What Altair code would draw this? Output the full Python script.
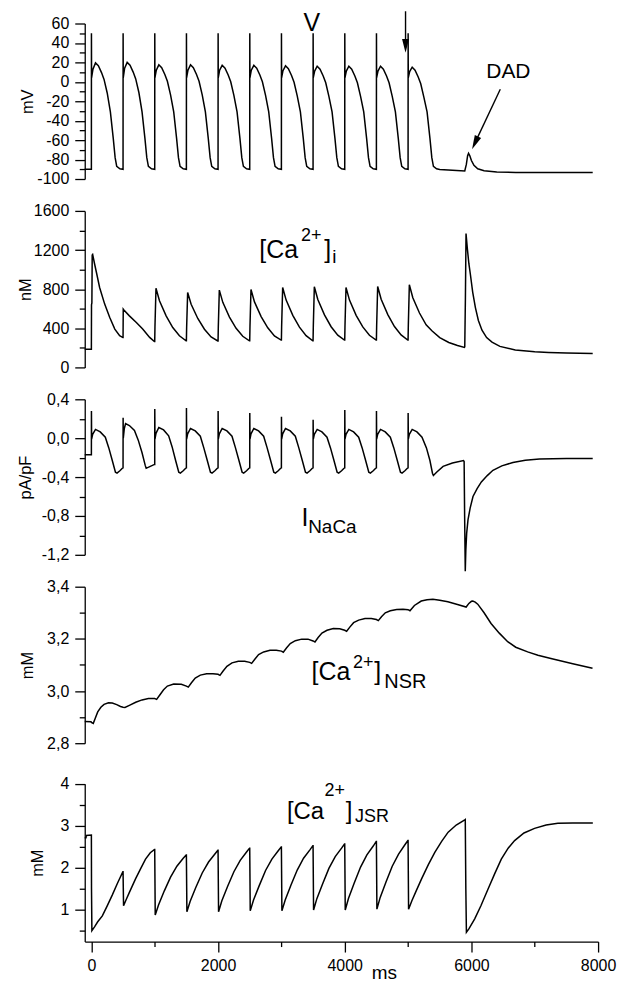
import altair as alt
import pandas as pd

FONT = "Liberation Sans"
X_DOMAIN = [-105, 8000]

# ---------------- traces: (time ms, value) ----------------
V_PTS = [
    (-105, -90), (0, -90), (1, 50), (3, 4), (25, 13), (65, 19.5), (110, 16.5), (160, 9.5), (200, 2.5), (250, -11.5), (300, -31), (345, -58), (375, -78), (400, -87), (450, -89.5),
    (500, -90), (501, 50), (503, 4), (525, 14), (565, 20), (610, 17), (660, 10), (700, 3), (750, -11), (800, -31), (845, -58), (875, -78), (900, -87), (950, -89.5),
    (1000, -90), (1001, 50), (1003, 4), (1025, 12), (1065, 17.5), (1110, 14.5), (1160, 7.5), (1200, 0.5), (1250, -13.5), (1300, -31), (1345, -58), (1375, -78), (1400, -87), (1450, -89.5),
    (1500, -90), (1501, 50), (1503, 4), (1525, 12), (1565, 17.5), (1610, 14.5), (1660, 7.5), (1700, 0.5), (1750, -13.5), (1800, -31), (1845, -58), (1875, -78), (1900, -87), (1950, -89.5),
    (2000, -90), (2001, 50), (2003, 4), (2025, 12), (2065, 17), (2110, 14), (2160, 7), (2200, 0), (2250, -14), (2300, -31), (2345, -58), (2375, -78), (2400, -87), (2450, -89.5),
    (2500, -90), (2501, 50), (2503, 4), (2525, 12), (2565, 17), (2610, 14), (2660, 7), (2700, 0), (2750, -14), (2800, -31), (2845, -58), (2875, -78), (2900, -87), (2950, -89.5),
    (3000, -90), (3001, 50), (3003, 4), (3025, 11.5), (3065, 16.5), (3110, 13.5), (3160, 6.5), (3200, -0.5), (3250, -14.5), (3300, -31), (3345, -58), (3375, -78), (3400, -87), (3450, -89.5),
    (3500, -90), (3501, 50), (3503, 4), (3525, 11), (3565, 16), (3610, 13), (3660, 6), (3700, -1), (3750, -15), (3800, -31), (3845, -58), (3875, -78), (3900, -87), (3950, -89.5),
    (4000, -90), (4001, 50), (4003, 4), (4025, 11), (4065, 16), (4110, 13), (4160, 6), (4200, -1), (4250, -15), (4300, -31), (4345, -58), (4375, -78), (4400, -87), (4450, -89.5),
    (4500, -90), (4501, 50), (4503, 4), (4525, 11), (4565, 16), (4610, 13), (4660, 6), (4700, -1), (4750, -15), (4800, -31), (4845, -58), (4875, -78), (4900, -87), (4950, -89.5),
    (5000, -90), (5001, 50), (5003, 4), (5025, 10.5), (5065, 15), (5110, 12), (5160, 5), (5200, -2), (5250, -16), (5300, -31), (5345, -58), (5375, -78), (5400, -87), (5450, -89.5),
    (5500, -90.3), (5700, -91), (5895, -91.8), (5920, -85), (5940, -76), (5955, -73.5), (5975, -76), (6000, -81), (6040, -86), (6100, -89.5),
    (6200, -91.5), (6400, -92.8), (6700, -93.2), (7200, -93.3), (7915, -93.3),
]

CAI_PTS = [
    (-105, 185), (0, 185), (2, 640), (8, 660), (13, 1150), (20, 1155), (50, 1060), (80, 970), (130, 817), (210, 647), (290, 510), (370, 392), (446, 324), (498, 305),
    (500, 305), (503, 596), (510, 590), (600, 527), (710, 459), (810, 392), (920, 307), (995, 265),
    (1000, 265), (1004, 420), (1020, 810), (1075, 681), (1180, 527), (1285, 408), (1390, 323), (1495, 272),
    (1500, 272), (1504, 410), (1520, 765), (1575, 645), (1680, 500), (1785, 390), (1890, 312), (1995, 270),
    (2000, 270), (2004, 415), (2020, 790), (2075, 665), (2180, 515), (2285, 400), (2390, 318), (2495, 272),
    (2500, 272), (2504, 420), (2520, 796), (2575, 670), (2680, 520), (2785, 405), (2890, 322), (2995, 280),
    (3000, 280), (3004, 425), (3020, 817), (3075, 688), (3180, 532), (3285, 412), (3390, 325), (3495, 272),
    (3500, 272), (3504, 425), (3520, 824), (3575, 694), (3680, 537), (3785, 416), (3890, 330), (3995, 280),
    (4000, 280), (4004, 425), (4020, 817), (4075, 688), (4180, 532), (4285, 414), (4390, 328), (4495, 280),
    (4500, 280), (4504, 425), (4520, 827), (4575, 697), (4680, 540), (4785, 418), (4890, 332), (4995, 280),
    (5000, 280), (5004, 430), (5020, 845), (5075, 712), (5180, 556), (5285, 435), (5380, 372), (5500, 305), (5643, 255), (5780, 224), (5890, 205),
    (5895, 210), (5905, 700), (5915, 1368), (5935, 1220), (5960, 1060), (5984, 950), (6020, 770), (6063, 612), (6110, 480), (6167, 380),
    (6240, 305), (6325, 258), (6450, 215), (6693, 178), (7000, 160), (7217, 153), (7500, 147), (7915, 143),
]

NCX_PTS = [
    (-105, -0.17), (0, -0.17), (1, 0.28), (4, -0.01), (20, 0.04), (65, 0.09), (140, 0.065), (220, 0.01), (275, -0.1), (330, -0.23), (380, -0.35), (405, -0.36), (450, -0.335), (497, -0.305),
    (500, -0.305), (501, 0.21), (504, 0.0), (520, 0.1), (540, 0.15), (600, 0.13), (680, 0.08), (740, -0.02), (800, -0.15), (850, -0.28), (865, -0.31), (930, -0.29), (997, -0.27),
    (1000, -0.27), (1001, 0.30), (1004, -0.01), (1020, 0.05), (1065, 0.11), (1140, 0.085), (1220, 0.025), (1275, -0.09), (1330, -0.23), (1380, -0.35), (1405, -0.36), (1450, -0.335), (1497, -0.305),
    (1500, -0.305), (1501, 0.31), (1504, -0.01), (1520, 0.045), (1565, 0.10), (1640, 0.075), (1720, 0.02), (1775, -0.1), (1830, -0.23), (1880, -0.35), (1905, -0.36), (1950, -0.335), (1997, -0.305),
    (2000, -0.305), (2001, 0.28), (2004, -0.01), (2020, 0.045), (2065, 0.10), (2140, 0.075), (2220, 0.02), (2275, -0.1), (2330, -0.23), (2380, -0.35), (2405, -0.36), (2450, -0.335), (2497, -0.305),
    (2500, -0.305), (2501, 0.26), (2504, -0.01), (2520, 0.045), (2565, 0.10), (2640, 0.075), (2720, 0.02), (2775, -0.1), (2830, -0.23), (2880, -0.35), (2905, -0.36), (2950, -0.335), (2997, -0.305),
    (3000, -0.305), (3001, 0.22), (3004, -0.01), (3020, 0.045), (3065, 0.10), (3140, 0.075), (3220, 0.02), (3275, -0.1), (3330, -0.23), (3380, -0.35), (3405, -0.36), (3450, -0.335), (3497, -0.305),
    (3500, -0.305), (3501, 0.19), (3504, -0.01), (3520, 0.04), (3565, 0.09), (3640, 0.065), (3720, 0.01), (3775, -0.1), (3830, -0.23), (3880, -0.35), (3905, -0.36), (3950, -0.335), (3997, -0.305),
    (4000, -0.305), (4001, 0.29), (4004, -0.01), (4020, 0.04), (4065, 0.09), (4140, 0.065), (4220, 0.01), (4275, -0.1), (4330, -0.23), (4380, -0.35), (4405, -0.36), (4450, -0.335), (4497, -0.305),
    (4500, -0.305), (4501, 0.28), (4504, -0.01), (4520, 0.04), (4565, 0.09), (4640, 0.065), (4720, 0.01), (4775, -0.1), (4830, -0.23), (4880, -0.35), (4905, -0.36), (4950, -0.335), (4997, -0.305),
    (5000, -0.305), (5001, 0.26), (5004, -0.01), (5020, 0.04), (5065, 0.09), (5140, 0.065), (5220, 0.01), (5290, -0.1), (5345, -0.23), (5385, -0.36), (5400, -0.384), (5450, -0.35),
    (5553, -0.29), (5700, -0.255), (5875, -0.23), (5885, -0.24), (5893, -0.8), (5903, -1.37), (5912, -1.15), (5925, -0.98), (5946, -0.84), (5980, -0.72),
    (6025, -0.60), (6090, -0.52), (6157, -0.45), (6250, -0.385), (6340, -0.33), (6480, -0.285), (6655, -0.25), (6850, -0.228), (7075, -0.215), (7500, -0.21), (7915, -0.21),
]

NSR_PTS = [
    (-105, 2.883), (-5, 2.882), (0, 2.88), (30, 2.876), (60, 2.895), (100, 2.92), (150, 2.938), (200, 2.949), (270, 2.955), (330, 2.954), (400, 2.948), (460, 2.941),
    (500, 2.938), (530, 2.937), (600, 2.945), (700, 2.957), (800, 2.966), (900, 2.971),
    (1000, 2.971), (1030, 2.968), (1080, 2.985), (1140, 3.005), (1200, 3.019), (1300, 3.027), (1420, 3.026),
    (1500, 3.019), (1530, 3.015), (1580, 3.032), (1640, 3.05), (1720, 3.061), (1820, 3.066), (1920, 3.066),
    (2000, 3.064), (2030, 3.06), (2080, 3.077), (2140, 3.095), (2220, 3.108), (2320, 3.114), (2420, 3.114),
    (2500, 3.11), (2530, 3.106), (2580, 3.122), (2640, 3.14), (2720, 3.15), (2820, 3.156), (2920, 3.156),
    (3000, 3.153), (3030, 3.149), (3080, 3.165), (3140, 3.182), (3220, 3.193), (3320, 3.199), (3420, 3.199),
    (3500, 3.192), (3530, 3.188), (3580, 3.205), (3640, 3.222), (3720, 3.233), (3820, 3.24), (3920, 3.239),
    (4000, 3.233), (4030, 3.229), (4080, 3.245), (4140, 3.262), (4220, 3.272), (4320, 3.278), (4420, 3.278),
    (4500, 3.274), (4530, 3.27), (4580, 3.285), (4640, 3.3), (4720, 3.308), (4820, 3.313), (4920, 3.314),
    (5000, 3.312), (5030, 3.308), (5100, 3.328), (5208, 3.345), (5300, 3.35), (5392, 3.352), (5500, 3.348), (5628, 3.342), (5780, 3.332),
    (5917, 3.322), (5960, 3.336), (6000, 3.344), (6022, 3.345), (6060, 3.341), (6100, 3.333), (6200, 3.3), (6310, 3.259), (6440, 3.222),
    (6573, 3.189), (6700, 3.168), (6888, 3.15), (7050, 3.137), (7255, 3.125), (7600, 3.105), (7912, 3.087),
]

JSR_PTS = [
    (-105, 2.72), (-85, 2.72), (-80, 2.77), (0, 2.78), (2, 1.5), (8, 0.51), (50, 0.6), (100, 0.72), (173, 0.86), (250, 1.1), (331, 1.36), (410, 1.63), (497, 1.91),
    (500, 1.91), (508, 1.1), (550, 1.25), (600, 1.42), (697, 1.74), (780, 1.99), (855, 2.21), (930, 2.36), (997, 2.44),
    (1000, 2.44), (1008, 0.88), (1060, 1.12), (1150, 1.45), (1250, 1.78), (1350, 2.04), (1450, 2.23), (1497, 2.31),
    (1500, 2.31), (1508, 0.96), (1560, 1.21), (1650, 1.54), (1750, 1.88), (1850, 2.14), (1950, 2.33), (1997, 2.42),
    (2000, 2.42), (2008, 0.96), (2060, 1.22), (2150, 1.56), (2250, 1.91), (2350, 2.18), (2450, 2.38), (2497, 2.47),
    (2500, 2.47), (2508, 0.98), (2560, 1.24), (2650, 1.58), (2750, 1.94), (2850, 2.21), (2950, 2.41), (2997, 2.5),
    (3000, 2.5), (3008, 0.98), (3060, 1.24), (3150, 1.59), (3250, 1.95), (3350, 2.23), (3450, 2.43), (3497, 2.53),
    (3500, 2.53), (3508, 1.0), (3560, 1.27), (3650, 1.62), (3750, 1.99), (3850, 2.27), (3950, 2.47), (3997, 2.57),
    (4000, 2.57), (4008, 1.0), (4060, 1.28), (4150, 1.64), (4250, 2.02), (4350, 2.31), (4450, 2.52), (4497, 2.63),
    (4500, 2.63), (4508, 1.02), (4560, 1.3), (4650, 1.66), (4750, 2.04), (4850, 2.33), (4950, 2.55), (4997, 2.65),
    (5000, 2.65), (5008, 1.02), (5060, 1.22), (5130, 1.46), (5213, 1.74), (5320, 2.08), (5422, 2.37), (5530, 2.63), (5633, 2.85), (5760, 3.02), (5895, 3.14),
    (5903, 3.15), (5912, 1.5), (5921, 0.47), (5960, 0.55), (6052, 0.79), (6150, 1.1), (6263, 1.5), (6370, 1.87), (6472, 2.21), (6580, 2.47),
    (6682, 2.65), (6830, 2.83), (6997, 2.94), (7180, 3.02), (7365, 3.06), (7600, 3.07), (7917, 3.07),
]

# ---------------- axis ticks ----------------
X_TICKS = [0, 1000, 2000, 3000, 4000, 5000, 6000, 7000, 8000]
V_TICKS = [-100, -90, -80, -70, -60, -50, -40, -30, -20, -10, 0, 10, 20, 30, 40, 50, 60]
CAI_TICKS = [0, 200, 400, 600, 800, 1000, 1200, 1400, 1600]
NCX_TICKS = [-1.2, -1.0, -0.8, -0.6, -0.4, -0.2, 0.0, 0.2, 0.4]
NSR_TICKS = [2.8, 2.9, 3.0, 3.1, 3.2, 3.3, 3.4]
JSR_TICKS = [0.5, 1.0, 1.5, 2.0, 2.5, 3.0, 3.5, 4.0]

# ---------------- annotations: (time, value, text, font size) ----------------
V_NOTES = [(3349, 52.8, "V", 25), (6235, 4.2, "DAD", 21)]
V_SHAFTS = [(4960, 72.6, 4960, 40.0), (6456, -7.7, 6057, -62.8)]
V_HEADS = [(4960, 37.0, 0), (6057, -62.8, 25)]
CAI_NOTES = [(2651, 1123, "[Ca", 25), (3308, 1294, "2+", 18), (3675, 1123, "]", 25), (3801, 1072, "i", 19)]
NCX_NOTES = [(3319, -0.90, "I", 25), (3423, -0.98, "NaCa", 19)]
NSR_NOTES = [(3475, 3.042, "[Ca", 25), (4131, 3.087, "2+", 18), (4467, 3.042, "]", 25), (4624, 3.010, "NSR", 20)]
JSR_NOTES = [(3087, 3.167, "[Ca", 24), (3681, 3.72, "2+", 18), (4016, 3.167, "]", 24), (4163, 3.088, "JSR", 18)]

ARROW_HEAD = "M-0.5,-1L0.5,-1L0,1Z"


def tick_size(test, major=10, minor=5.5):
    return {"condition": {"test": test, "value": major}, "value": minor}


def panel(pts, ydom, height, yticks, test, label_expr, title, title_x,
          notes, shafts=None, heads=None, x_axis=None, yrange=None):
    df = pd.DataFrame(pts, columns=["t", "v"])
    df["i"] = range(len(df))
    xenc = alt.X("t:Q", scale=alt.Scale(domain=X_DOMAIN, nice=False, zero=False), axis=x_axis)
    if yrange is None:
        yscale = alt.Scale(domain=ydom, nice=False, zero=False)
    else:
        yscale = alt.Scale(domain=ydom, nice=False, zero=False, range=yrange)
    yenc = alt.Y("v:Q", scale=yscale,
                 axis=alt.Axis(values=yticks, labelExpr=label_expr, title=title,
                               titleX=title_x, titleAngle=270, titleBaseline="middle",
                               titleAlign="center", titleFontSize=16.5,
                               tickSize=tick_size(test)))
    line = alt.Chart(df).mark_line(color="black", strokeWidth=1.5).encode(
        x=xenc, y=yenc, order=alt.Order("i:Q"))
    layers = [line]
    ndf = pd.DataFrame(notes, columns=["t", "v", "txt", "fs"])
    layers.append(alt.Chart(ndf).mark_text(align="left", baseline="alphabetic", font=FONT,
                                           color="black").encode(
        x=xenc, y=yenc, text="txt:N", size=alt.Size("fs:Q", scale=None)))
    if shafts:
        sdf = pd.DataFrame(shafts, columns=["t", "v", "t2", "v2"])
        layers.append(alt.Chart(sdf).mark_rule(color="black", strokeWidth=1.4).encode(
            x=xenc, y=yenc, x2="t2:Q", y2="v2:Q"))
    if heads:
        hdf = pd.DataFrame(heads, columns=["t", "v", "a"])
        layers.append(alt.Chart(hdf).mark_point(shape=ARROW_HEAD, filled=True, color="black",
                                                size=196, opacity=1, strokeWidth=0).encode(
            x=xenc, y=yenc, angle=alt.Angle("a:Q", scale=None)))
    return alt.layer(*layers).properties(width=515, height=height)


p_v = panel(V_PTS, [-100, 60], 156, V_TICKS, "datum.value % 20 === 0",
            "datum.value % 20 === 0 ? '' + datum.value : ''", "mV", -57.7,
            V_NOTES, V_SHAFTS, V_HEADS)
p_cai = panel(CAI_PTS, [0, 1600], 157, CAI_TICKS, "datum.value % 400 === 0",
              "datum.value % 400 === 0 ? '' + datum.value : ''", "nM", -59, CAI_NOTES)
p_ncx = panel(NCX_PTS, [-1.2, 0.4], 156, NCX_TICKS, "abs(round(datum.value * 10)) % 4 === 0",
              "abs(round(datum.value * 10)) % 4 === 0 ? (datum.value < 0 ? '-' : '') + replace(format(abs(datum.value), '.1f'), '.', ',') : ''",
              "pA/pF", -59.3, NCX_NOTES)
p_nsr = panel(NSR_PTS, [2.8, 3.4], 157, NSR_TICKS, "round(datum.value * 10) % 2 === 0",
              "round(datum.value * 10) % 2 === 0 ? replace(format(datum.value, '.1f'), '.', ',') : ''",
              "mM", -57.7, NSR_NOTES)
x_axis = alt.Axis(values=X_TICKS, labelExpr="datum.value % 2000 === 0 ? '' + datum.value : ''",
                  tickSize=tick_size("datum.value % 2000 === 0", 10.5, 5), title="ms",
                  titleX=300, titleY=31, titleBaseline="middle", titleAlign="center",
                  titleFontSize=19, labelFlush=False, labelOverlap=False)
p_jsr = panel(JSR_PTS, [0.25, 4], 167, JSR_TICKS, "round(datum.value * 2) % 2 === 0",
              "round(datum.value * 2) % 2 === 0 ? '' + datum.value : ''", "mM", -47.7,
              JSR_NOTES, x_axis=x_axis, yrange=[167, 8.7])

chart = alt.vconcat(p_v, p_cai, p_ncx, p_nsr, p_jsr, spacing=32, bounds="flush").properties(
    padding={"left": 17, "top": 9, "right": 10, "bottom": 5}, background="white"
).configure_view(stroke=None).configure_axis(
    domainColor="black", domainWidth=1.3, tickColor="black", tickWidth=1.3,
    labelColor="black", labelFont=FONT, labelFontSize=16, labelPadding=6,
    labelOverlap=False, labelFlush=False,
    titleFont=FONT, titleFontSize=16, titleFontWeight="normal", titleColor="black",
    grid=False,
)

chart.save("out.html", embed_options={"renderer": "svg", "actions": False})
